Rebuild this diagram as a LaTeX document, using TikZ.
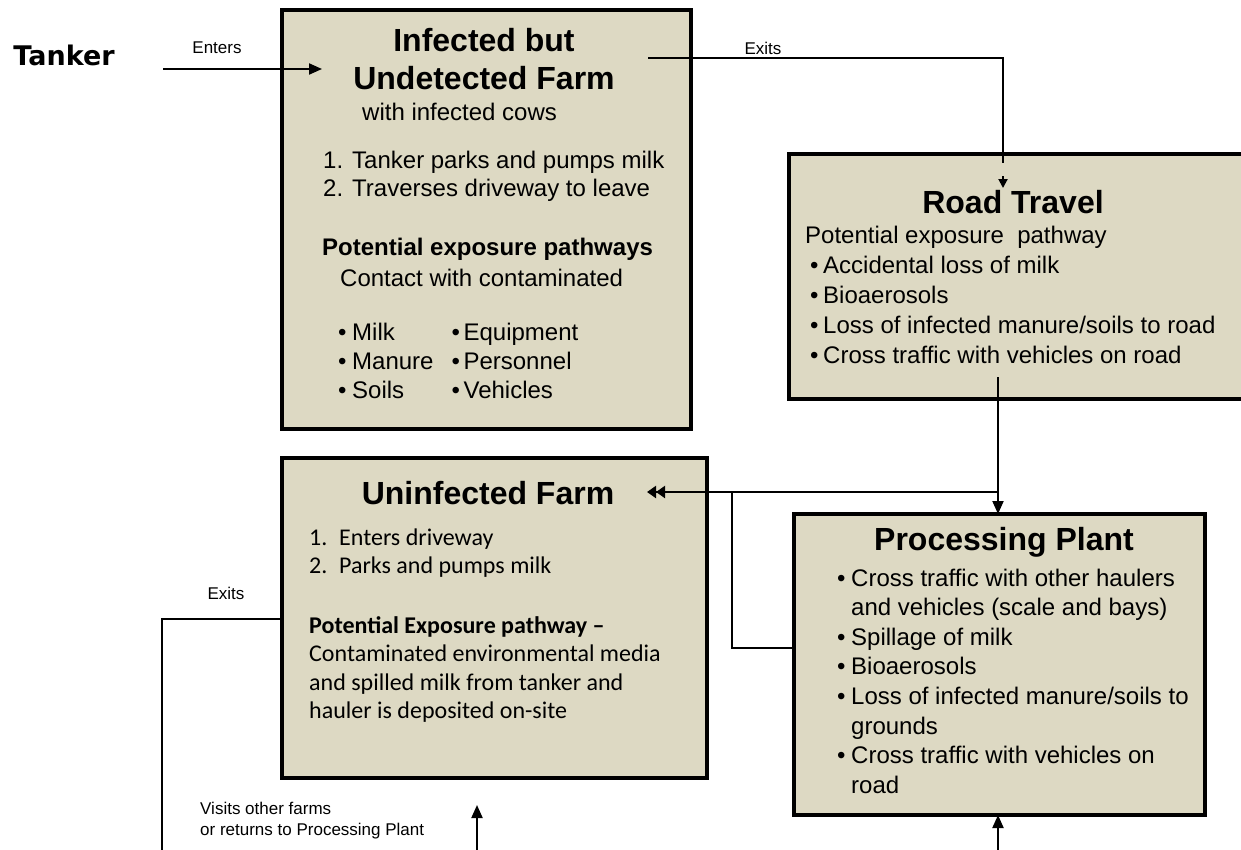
\documentclass[tikz,border=0pt]{standalone}
\usepackage{fontspec}
\setmainfont{Liberation Sans}
\newfontfamily\calfont{Carlito}
\newfontfamily\heavyfont{DejaVu Sans}
\usetikzlibrary{arrows.meta}
\definecolor{paneltan}{HTML}{DDD9C3}

\begin{document}
\begin{tikzpicture}[x=1pt,y=-1pt,
  panel/.style={draw=black, line width=4pt, fill=paneltan, anchor=north west,
                inner sep=0pt, outer sep=0pt},
  conn/.style={line width=2pt, draw=black},
  tip/.style={-{Triangle[length=13pt,width=11pt]}},
  smalltip/.style={-{Triangle[length=9pt,width=9pt]}},
  dbltip/.style={-{Triangle[length=9pt,width=12pt]Triangle[length=9pt,width=12pt]}},
  ttl/.style={font=\fontsize{32}{38}\selectfont\bfseries, inner sep=0pt, align=center},
  body/.style={font=\fontsize{24}{29}\selectfont, inner sep=0pt, anchor=base west},
  cbody/.style={font=\calfont\fontsize{24}{28.5}\selectfont, inner sep=0pt, anchor=base west},
  lbl/.style={font=\fontsize{17}{21}\selectfont, inner sep=0pt},
]
\useasboundingbox (0,0) rectangle (1241,849);

% ---------- panels ----------
\node[panel, minimum width=409pt, minimum height=419pt] (inf)  at (282,10)  {};
\node[panel, minimum width=500pt, minimum height=245pt] (road) at (789,154) {};
\node[panel, minimum width=425pt, minimum height=320pt] (unf)  at (282,458) {};
\node[panel, minimum width=411pt, minimum height=301pt] (proc) at (794,514) {};

% ---------- tanker ----------
\node[font=\heavyfont\bfseries\fontsize{27}{31}\selectfont, inner sep=0pt] (tanker) at (64,55) {Tanker};

% ---------- infected but undetected farm ----------
\node[ttl] (infT) at (484,59) {Infected but\\Undetected Farm};
\node[body] (infSub) at (362,120) {with infected cows};
\node[body] (infS1) at (323,168) {\makebox[29pt][l]{1.}Tanker parks and pumps milk};
\node[body] (infS2) at (323,196) {\makebox[29pt][l]{2.}Traverses driveway to leave};
\node[body, font=\fontsize{24}{29}\selectfont\bfseries] (infP) at (322,255) {Potential exposure pathways};
\node[body] (infC) at (340,286) {Contact with contaminated};
\node[body] (infL) at (338,340) {%
  \begin{tabular}[t]{@{}l@{\hspace{18pt}}l@{}}
  \makebox[14pt][l]{•}Milk   & \makebox[12pt][l]{•}Equipment\\
  \makebox[14pt][l]{•}Manure & \makebox[12pt][l]{•}Personnel\\
  \makebox[14pt][l]{•}Soils  & \makebox[12pt][l]{•}Vehicles
  \end{tabular}};

% ---------- road travel ----------
\node[ttl] (roadT) at (1013,202) {Road Travel};
\node[body, font=\fontsize{24}{30}\selectfont] (roadL) at (805,243) {%
  \begin{tabular}[t]{@{}l@{}}
  Potential exposure \ pathway\\
  \hspace{5pt}\makebox[13pt][l]{•}Accidental loss of milk\\
  \hspace{5pt}\makebox[13pt][l]{•}Bioaerosols\\
  \hspace{5pt}\makebox[13pt][l]{•}Loss of infected manure/soils to road\\
  \hspace{5pt}\makebox[13pt][l]{•}Cross traffic with vehicles on road
  \end{tabular}};

% ---------- uninfected farm ----------
\node[ttl] (unfT) at (488,493) {Uninfected Farm};
\node[cbody] (unfS) at (309,545) {%
  \begin{tabular}[t]{@{}l@{}}
  \makebox[30pt][l]{1.}Enters driveway\\
  \makebox[30pt][l]{2.}Parks and pumps milk
  \end{tabular}};
\node[cbody] (unfP) at (309,633) {%
  \begin{tabular}[t]{@{}l@{}}
  \textbf{Potential Exposure pathway –}\\
  Contaminated environmental media\\
  and spilled milk from tanker and\\
  hauler is deposited on-site
  \end{tabular}};

% ---------- processing plant ----------
\node[ttl] (procT) at (1004,542) {Processing Plant};
\node[body, font=\fontsize{24}{29.6}\selectfont] (procL) at (837,586) {%
  \begin{tabular}[t]{@{}l@{}l@{}}
  \makebox[14pt][l]{•} & Cross traffic with other haulers\\
                       & and vehicles (scale and bays)\\
  \makebox[14pt][l]{•} & Spillage of milk\\
  \makebox[14pt][l]{•} & Bioaerosols\\
  \makebox[14pt][l]{•} & Loss of infected manure/soils to\\
                       & grounds\\
  \makebox[14pt][l]{•} & Cross traffic with vehicles on\\
                       & road
  \end{tabular}};

% ---------- free labels ----------
\node[lbl] (lEnters) at (217,48) {Enters};
\node[lbl] (lExits1) at (763,48) {Exits};
\node[lbl] (lExits2) at (226,593) {Exits};
\node[lbl, anchor=base west] (lVisits) at (200,814) {%
  \begin{tabular}[t]{@{}l@{}}Visits other farms\\or returns to Processing Plant\end{tabular}};

% ---------- connector end points ----------
\coordinate (tkOut)  at (163,69);
\coordinate (infIn)  at (322,69);
\coordinate (infOut) at (648,58);
\coordinate (rdGap)  at (1003,163);
\coordinate (rdArrS) at (1003,176);
\coordinate (rdIn)   at (1003,188);
\coordinate (rdOut)  at (998,377);
\coordinate (split)  at (998,492);
\coordinate (unfIn)  at (647,492);
\coordinate (pcOut)  at (794,648);
\coordinate (pcJoin) at (732,492);
\coordinate (unfOut) at (282,619);
\coordinate (exDown) at (162,860);
\coordinate (retBot) at (477,860);
\coordinate (retTip) at (477,805);
\coordinate (pcBot)  at (998,860);

% ---------- connectors ----------
\draw[conn, tip] (tkOut) -- (infIn);
\draw[conn] (infOut) -| (rdGap);
\draw[conn, smalltip] (rdArrS) -- (rdIn);
\draw[conn, tip] (rdOut) -- (rdOut |- proc.north);
\draw[conn, dbltip] (split) -- (unfIn);
\draw[conn] (pcOut) -| (pcJoin);
\draw[conn] (unfOut) -| (exDown);
\draw[conn, tip] (retBot) -- (retTip);
\draw[conn, tip] (pcBot) -- (pcBot |- proc.south);
\end{tikzpicture}
\end{document}
